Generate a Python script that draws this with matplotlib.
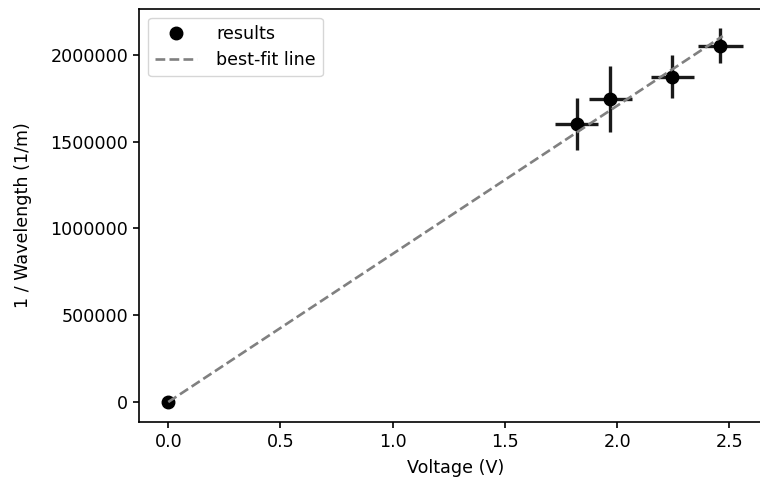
import numpy as np
import matplotlib
matplotlib.use("Agg")
from matplotlib import pyplot as plt
from matplotlib.lines import Line2D

# measured points (voltage, inverse wavelength) with their uncertainties
voltage = [0.0, 1.82, 1.97, 2.245, 2.46]
inv_wavelength = [0.0, 1.60e6, 1.745e6, 1.875e6, 2.052e6]
volt_err = [0.0, 0.096, 0.094, 0.096, 0.1]
inv_wl_err = [0.0, 150000, 190000, 125000, 101000]

# best-fit line through the origin
fit_slope = 853800.0
fit_intercept = 0.0
fit_range = [0.0, 2.47]

plt.rcParams['font.size'] = 12.6
fig = plt.figure(figsize=(7.6, 4.83), dpi=100)
ax = fig.add_axes([0.1833, 0.1269, 0.832, 0.8545])

fit_x = np.array(fit_range)
line, = ax.plot(fit_x, fit_slope * fit_x + fit_intercept, color='gray',
                linestyle='--', linewidth=1.9, label='best-fit line', zorder=3)
ax.errorbar(voltage, inv_wavelength, xerr=volt_err, yerr=inv_wl_err,
            fmt='o', color='black', markersize=9, ecolor='#1a1a1a',
            elinewidth=2.4, zorder=2)

ax.set_xlim(-0.129, 2.688)
ax.set_ylim(-113500, 2.265e6)
ax.set_xticks([0.0, 0.5, 1.0, 1.5, 2.0, 2.5])
ax.set_yticks([0, 500000, 1000000, 1500000, 2000000])
ax.ticklabel_format(axis='y', style='plain', useOffset=False)
for s in ax.spines.values():
    s.set_linewidth(1.2)
ax.tick_params(width=1.2, length=4.5)
ax.set_xlabel('Voltage (V)', labelpad=6)
ax.set_ylabel('1 / Wavelength (1/m)', labelpad=13)

dot = Line2D([], [], marker='o', linestyle='', color='black', markersize=9)
ax.legend([dot, line], ['results', 'best-fit line'], loc='upper left',
          handlelength=2.4, handletextpad=1.1)

fig.savefig("out.png", dpi=100)
